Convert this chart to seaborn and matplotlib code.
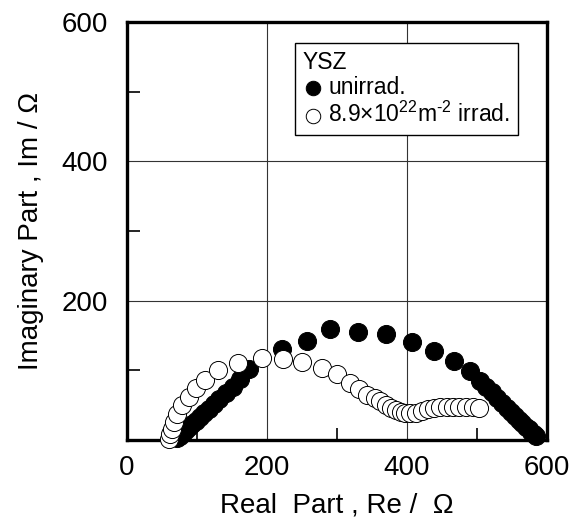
import matplotlib
matplotlib.use("Agg")
import matplotlib.pyplot as plt
from matplotlib.ticker import MultipleLocator
import seaborn as sns
import pandas as pd

# Impedance data (ohm)
unirrad_re = [72, 76, 80, 84, 88, 93, 98, 104, 110, 117, 124, 132, 141, 151, 162, 175,
              221, 257, 290, 330, 370, 407, 439, 467, 490,
              504, 513, 521, 529, 536, 543, 549, 555, 560, 565, 570, 574, 578, 581, 584]
unirrad_im = [2, 6, 10, 14, 18, 22, 27, 33, 38, 44, 51, 58, 67, 76, 88, 101,
              130, 142, 159, 155, 152, 141, 128, 113, 99,
              85, 76, 68, 60, 53, 46, 40, 34, 29, 24, 19, 15, 11, 8, 5]

irrad_re = [60, 62, 64, 67, 72, 79, 88, 99, 111, 130, 158, 193,
            223, 250, 279, 300, 319, 331, 343, 354, 362, 370, 377, 384, 391, 398,
            405, 413, 421, 430, 439, 448, 457, 466, 475, 485, 494, 503]
irrad_im = [1, 8, 16, 26, 37, 50, 62, 74, 86, 100, 110, 118,
            116, 112, 103, 95, 82, 73, 64, 60, 55, 50, 46, 43, 40, 38,
            38, 39, 42, 44, 46, 47, 47, 47, 47, 47, 47, 46]

label_unirrad = "unirrad."
label_irrad = "8.9\u00d710$^{22}$m$^{\u2010 2}$ irrad."

df_un = pd.DataFrame({"Re": unirrad_re, "Im": unirrad_im})
df_ir = pd.DataFrame({"Re": irrad_re, "Im": irrad_im})

sns.set_style("ticks")
plt.rcParams["font.family"] = ["Liberation Sans", "DejaVu Sans"]
plt.rcParams["mathtext.default"] = "regular"
plt.rcParams["text.color"] = "black"
plt.rcParams["axes.labelcolor"] = "black"
plt.rcParams["xtick.color"] = "black"
plt.rcParams["ytick.color"] = "black"

fig, ax = plt.subplots(figsize=(5.72, 5.18), dpi=100)
fig.subplots_adjust(left=0.222, right=0.956, bottom=0.151, top=0.9575)

sns.scatterplot(data=df_un, x="Re", y="Im", ax=ax, marker="o", s=170,
                color="black", edgecolor="black", linewidth=0.7,
                label=label_unirrad, zorder=3, clip_on=False)
sns.scatterplot(data=df_ir, x="Re", y="Im", ax=ax, marker="o", s=170,
                facecolor="white", edgecolor="black", linewidth=0.7,
                label=label_irrad, zorder=4, clip_on=False)

ax.set_xlim(0, 600)
ax.set_ylim(0, 600)
ax.set_xticks([0, 200, 400, 600])
ax.set_yticks([200, 400, 600])
ax.xaxis.set_minor_locator(MultipleLocator(100))
ax.yaxis.set_minor_locator(MultipleLocator(100))
ax.tick_params(which="major", length=0, labelsize=20)
ax.tick_params(axis="x", which="major", pad=11)
ax.tick_params(axis="y", which="major", pad=14)
ax.tick_params(which="minor", direction="in", length=9, width=1.2)
ax.grid(True, which="major", color="#333333", linewidth=0.8)

for side in ["left", "right", "top", "bottom"]:
    ax.spines[side].set_visible(True)
    ax.spines[side].set_linewidth(2.4)
    ax.spines[side].set_color("black")

ax.set_xlabel("Real  Part , Re /  \u03a9", fontsize=20, labelpad=8)
ax.set_ylabel("Imaginary Part , Im / \u03a9", fontsize=20, labelpad=12)

leg = ax.legend(title="YSZ", loc="upper left", bbox_to_anchor=(0.40, 0.95),
                borderaxespad=0, frameon=True, fancybox=False, framealpha=1,
                edgecolor="black", fontsize=16.5, title_fontsize=16.5,
                handletextpad=0.2, borderpad=0.35, labelspacing=0.1,
                markerscale=0.8, alignment="left", handlelength=0.9)
leg.get_frame().set_linewidth(1.0)

fig.savefig("out.png", dpi=100)
